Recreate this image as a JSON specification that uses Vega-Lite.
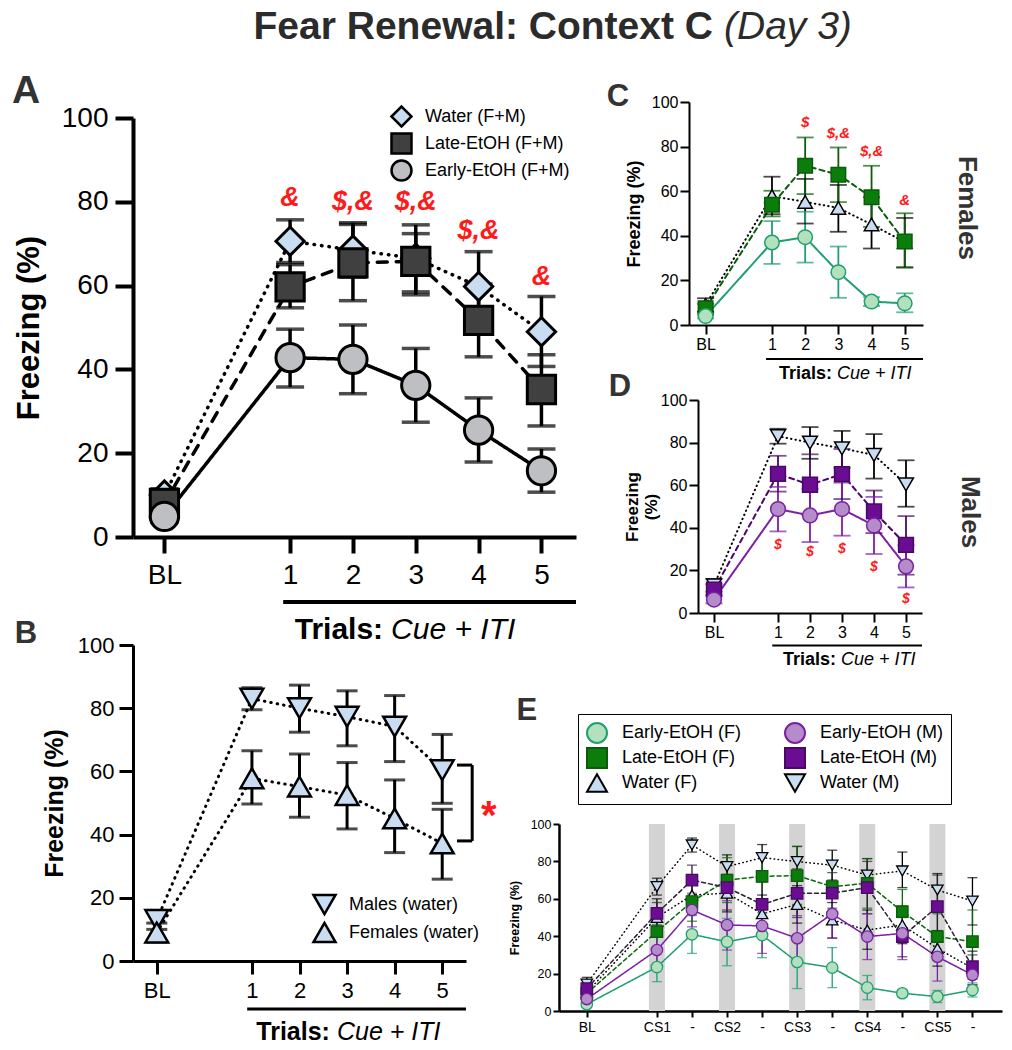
{
"$schema":"https://vega.github.io/schema/vega-lite/v6.json",
"width":1012,"height":1050,"autosize":{"type":"none"},"padding":0,
"config":{"view":{"stroke":null},"font":"Liberation Sans",
"axis":{"grid":false,"labelColor":"#000000","titleColor":"#000000","domainColor":"#000000","tickColor":"#000000","labelFlush":false,"labelOverlap":false,"labelFont":"Liberation Sans","titleFont":"Liberation Sans"},
"legend":{"labelFont":"Liberation Sans","labelColor":"#000000","labelLimit":400},
"text":{"font":"Liberation Sans"}},
"datasets":{
"A":[
{"g":"Water (F+M)","t":0,"m":10,"lo":8.5,"hi":11.5},
{"g":"Water (F+M)","t":2,"m":70.6,"lo":65.5,"hi":75.7},
{"g":"Water (F+M)","t":3,"m":68.5,"lo":62,"hi":75},
{"g":"Water (F+M)","t":4,"m":66.5,"lo":58.5,"hi":74.5},
{"g":"Water (F+M)","t":5,"m":59.8,"lo":51.5,"hi":68.1},
{"g":"Water (F+M)","t":6,"m":49,"lo":40.7,"hi":57.4},
{"g":"Late-EtOH (F+M)","t":0,"m":8,"lo":6.5,"hi":9.5},
{"g":"Late-EtOH (F+M)","t":2,"m":59.7,"lo":54.7,"hi":65},
{"g":"Late-EtOH (F+M)","t":3,"m":65.4,"lo":56.4,"hi":74.6},
{"g":"Late-EtOH (F+M)","t":4,"m":65.8,"lo":57.8,"hi":72.4},
{"g":"Late-EtOH (F+M)","t":5,"m":51.7,"lo":43,"hi":60.4},
{"g":"Late-EtOH (F+M)","t":6,"m":35.2,"lo":26.5,"hi":43.5},
{"g":"Early-EtOH (F+M)","t":0,"m":4.9,"lo":3.5,"hi":6.3},
{"g":"Early-EtOH (F+M)","t":2,"m":42.8,"lo":35.8,"hi":49.6},
{"g":"Early-EtOH (F+M)","t":3,"m":42.4,"lo":34.2,"hi":50.6},
{"g":"Early-EtOH (F+M)","t":4,"m":36.2,"lo":27.4,"hi":45},
{"g":"Early-EtOH (F+M)","t":5,"m":25.5,"lo":17.9,"hi":33.2},
{"g":"Early-EtOH (F+M)","t":6,"m":15.8,"lo":10.7,"hi":21}],
"annA":[{"t":2,"v":81,"s":"&"},{"t":3,"v":80,"s":"$,&"},{"t":4,"v":80,"s":"$,&"},{"t":5,"v":73,"s":"$,&"},{"t":6,"v":62,"s":"&"}],
"B":[
{"g":"Males (water)","t":0,"m":13,"lo":10,"hi":16},
{"g":"Males (water)","t":2,"m":83,"lo":79.5,"hi":86.5},
{"g":"Males (water)","t":3,"m":80,"lo":72.4,"hi":87.3},
{"g":"Males (water)","t":4,"m":77.3,"lo":68.1,"hi":85.5},
{"g":"Males (water)","t":5,"m":74.2,"lo":63.1,"hi":84},
{"g":"Males (water)","t":6,"m":60.4,"lo":49.9,"hi":71.7},
{"g":"Females (water)","t":0,"m":9,"lo":6,"hi":12},
{"g":"Females (water)","t":2,"m":57.8,"lo":49.7,"hi":66.5},
{"g":"Females (water)","t":3,"m":55.2,"lo":45.5,"hi":65.5},
{"g":"Females (water)","t":4,"m":52.5,"lo":41.8,"hi":62.8},
{"g":"Females (water)","t":5,"m":45.1,"lo":34.3,"hi":57.3},
{"g":"Females (water)","t":6,"m":37.2,"lo":25.9,"hi":48}],
"C":[
{"g":"Water (F)","t":0,"m":9,"lo":6,"hi":12},
{"g":"Water (F)","t":2,"m":57.8,"lo":49.7,"hi":66.5},
{"g":"Water (F)","t":3,"m":55.2,"lo":45.5,"hi":65.5},
{"g":"Water (F)","t":4,"m":52.5,"lo":41.8,"hi":62.8},
{"g":"Water (F)","t":5,"m":45.1,"lo":34.3,"hi":57.3},
{"g":"Water (F)","t":6,"m":37.2,"lo":25.9,"hi":48},
{"g":"Late-EtOH (F)","t":0,"m":7.5,"lo":5.5,"hi":9.5},
{"g":"Late-EtOH (F)","t":2,"m":53.9,"lo":48.7,"hi":60.2},
{"g":"Late-EtOH (F)","t":3,"m":71.4,"lo":58.7,"hi":84.1},
{"g":"Late-EtOH (F)","t":4,"m":67.4,"lo":55.1,"hi":79.6},
{"g":"Late-EtOH (F)","t":5,"m":57.3,"lo":44,"hi":71.4},
{"g":"Late-EtOH (F)","t":6,"m":37.4,"lo":25.7,"hi":50.1},
{"g":"Early-EtOH (F)","t":0,"m":4,"lo":3,"hi":5},
{"g":"Early-EtOH (F)","t":2,"m":37,"lo":27.4,"hi":46.6},
{"g":"Early-EtOH (F)","t":3,"m":39.4,"lo":28,"hi":50.8},
{"g":"Early-EtOH (F)","t":4,"m":23.7,"lo":12.2,"hi":35.2},
{"g":"Early-EtOH (F)","t":5,"m":10.5,"lo":8.5,"hi":12.5},
{"g":"Early-EtOH (F)","t":6,"m":9.7,"lo":5.7,"hi":14.2}],
"annC":[{"t":3,"v":91,"s":"$"},{"t":4,"v":86,"s":"$,&"},{"t":5,"v":78,"s":"$,&"},{"t":6,"v":56,"s":"&"}],
"D":[
{"g":"Water (M)","t":0,"m":13,"lo":10,"hi":16},
{"g":"Water (M)","t":2,"m":83,"lo":79.5,"hi":86.5},
{"g":"Water (M)","t":3,"m":80,"lo":72.4,"hi":87.3},
{"g":"Water (M)","t":4,"m":77.3,"lo":68.1,"hi":85.5},
{"g":"Water (M)","t":5,"m":74.2,"lo":63.1,"hi":84},
{"g":"Water (M)","t":6,"m":60.4,"lo":49.9,"hi":71.7},
{"g":"Late-EtOH (M)","t":0,"m":11,"lo":8.5,"hi":13.5},
{"g":"Late-EtOH (M)","t":2,"m":65.3,"lo":57,"hi":73.8},
{"g":"Late-EtOH (M)","t":3,"m":60.2,"lo":46,"hi":74.5},
{"g":"Late-EtOH (M)","t":4,"m":65.2,"lo":53.5,"hi":77},
{"g":"Late-EtOH (M)","t":5,"m":47.7,"lo":37.5,"hi":57.5},
{"g":"Late-EtOH (M)","t":6,"m":32,"lo":18,"hi":45.5},
{"g":"Early-EtOH (M)","t":0,"m":6.3,"lo":4.5,"hi":8},
{"g":"Early-EtOH (M)","t":2,"m":48.8,"lo":38.3,"hi":59.2},
{"g":"Early-EtOH (M)","t":3,"m":45.8,"lo":33.3,"hi":58.3},
{"g":"Early-EtOH (M)","t":4,"m":48.8,"lo":36.3,"hi":61.2},
{"g":"Early-EtOH (M)","t":5,"m":41.1,"lo":27.7,"hi":54.5},
{"g":"Early-EtOH (M)","t":6,"m":21.9,"lo":12,"hi":31.8}],
"annD":[{"t":2,"v":32,"s":"$"},{"t":3,"v":28.5,"s":"$"},{"t":4,"v":30,"s":"$"},{"t":5,"v":21.5,"s":"$"},{"t":6,"v":6.5,"s":"$"}],
"E":[
{"g":"Water (M)","t":0,"m":14.4,"lo":11,"hi":18},
{"g":"Water (M)","t":2,"m":66.5,"lo":62,"hi":71},
{"g":"Water (M)","t":3,"m":88.8,"lo":85,"hi":92.5},
{"g":"Water (M)","t":4,"m":77.2,"lo":71,"hi":83.5},
{"g":"Water (M)","t":5,"m":82,"lo":75,"hi":89},
{"g":"Water (M)","t":6,"m":79.9,"lo":72,"hi":88},
{"g":"Water (M)","t":7,"m":78,"lo":70,"hi":86},
{"g":"Water (M)","t":8,"m":72.7,"lo":64,"hi":81.5},
{"g":"Water (M)","t":9,"m":74.9,"lo":66,"hi":85},
{"g":"Water (M)","t":10,"m":64.7,"lo":56,"hi":73.5},
{"g":"Water (M)","t":11,"m":58.8,"lo":46,"hi":71.3},
{"g":"Water (F)","t":0,"m":10,"lo":7,"hi":13},
{"g":"Water (F)","t":2,"m":50,"lo":40,"hi":60},
{"g":"Water (F)","t":3,"m":62,"lo":52,"hi":72},
{"g":"Water (F)","t":4,"m":63,"lo":53,"hi":73},
{"g":"Water (F)","t":5,"m":52,"lo":42,"hi":62},
{"g":"Water (F)","t":6,"m":57,"lo":47,"hi":67},
{"g":"Water (F)","t":7,"m":48.7,"lo":39,"hi":58},
{"g":"Water (F)","t":8,"m":43.3,"lo":33,"hi":54},
{"g":"Water (F)","t":9,"m":46,"lo":36,"hi":56},
{"g":"Water (F)","t":10,"m":33.5,"lo":24,"hi":43},
{"g":"Water (F)","t":11,"m":22.8,"lo":14,"hi":32},
{"g":"Late-EtOH (F)","t":0,"m":9.4,"lo":7,"hi":12},
{"g":"Late-EtOH (F)","t":2,"m":42.4,"lo":33,"hi":52},
{"g":"Late-EtOH (F)","t":3,"m":58.5,"lo":48,"hi":69},
{"g":"Late-EtOH (F)","t":4,"m":70,"lo":58,"hi":82},
{"g":"Late-EtOH (F)","t":5,"m":72,"lo":60,"hi":84},
{"g":"Late-EtOH (F)","t":6,"m":72.4,"lo":57,"hi":88},
{"g":"Late-EtOH (F)","t":7,"m":66.5,"lo":55,"hi":78},
{"g":"Late-EtOH (F)","t":8,"m":68.3,"lo":55,"hi":81.5},
{"g":"Late-EtOH (F)","t":9,"m":53.1,"lo":41,"hi":65},
{"g":"Late-EtOH (F)","t":10,"m":39.8,"lo":27,"hi":52},
{"g":"Late-EtOH (F)","t":11,"m":37.1,"lo":20,"hi":54},
{"g":"Late-EtOH (M)","t":0,"m":12,"lo":9.5,"hi":14.5},
{"g":"Late-EtOH (M)","t":2,"m":52.2,"lo":46,"hi":58},
{"g":"Late-EtOH (M)","t":3,"m":70,"lo":62,"hi":78},
{"g":"Late-EtOH (M)","t":4,"m":66,"lo":54,"hi":79},
{"g":"Late-EtOH (M)","t":5,"m":57,"lo":45,"hi":69},
{"g":"Late-EtOH (M)","t":6,"m":62.9,"lo":50,"hi":76},
{"g":"Late-EtOH (M)","t":7,"m":63,"lo":52,"hi":74},
{"g":"Late-EtOH (M)","t":8,"m":66,"lo":52,"hi":80},
{"g":"Late-EtOH (M)","t":9,"m":39.8,"lo":29,"hi":50},
{"g":"Late-EtOH (M)","t":10,"m":55.8,"lo":39,"hi":72.7},
{"g":"Late-EtOH (M)","t":11,"m":23.7,"lo":17,"hi":30},
{"g":"Early-EtOH (F)","t":0,"m":3.6,"lo":2.5,"hi":4.7},
{"g":"Early-EtOH (F)","t":2,"m":23.5,"lo":15.7,"hi":31.5},
{"g":"Early-EtOH (F)","t":3,"m":41,"lo":30.8,"hi":51},
{"g":"Early-EtOH (F)","t":4,"m":37,"lo":24.2,"hi":49.5},
{"g":"Early-EtOH (F)","t":5,"m":40.6,"lo":28.5,"hi":52.5},
{"g":"Early-EtOH (F)","t":6,"m":26.2,"lo":12,"hi":40.5},
{"g":"Early-EtOH (F)","t":7,"m":23.2,"lo":12.5,"hi":33.9},
{"g":"Early-EtOH (F)","t":8,"m":12.5,"lo":6,"hi":19},
{"g":"Early-EtOH (F)","t":9,"m":9.5,"lo":7.5,"hi":11.5},
{"g":"Early-EtOH (F)","t":10,"m":7.7,"lo":4.5,"hi":11},
{"g":"Early-EtOH (F)","t":11,"m":11.2,"lo":7.5,"hi":15},
{"g":"Early-EtOH (M)","t":0,"m":6.4,"lo":4.5,"hi":8.3},
{"g":"Early-EtOH (M)","t":2,"m":32.6,"lo":24.5,"hi":40.5},
{"g":"Early-EtOH (M)","t":3,"m":54,"lo":45,"hi":63},
{"g":"Early-EtOH (M)","t":4,"m":46,"lo":32.6,"hi":59},
{"g":"Early-EtOH (M)","t":5,"m":45.5,"lo":30.8,"hi":59},
{"g":"Early-EtOH (M)","t":6,"m":38.9,"lo":27,"hi":51},
{"g":"Early-EtOH (M)","t":7,"m":51.9,"lo":39,"hi":64},
{"g":"Early-EtOH (M)","t":8,"m":39.8,"lo":27.5,"hi":52},
{"g":"Early-EtOH (M)","t":9,"m":41.5,"lo":27.5,"hi":55},
{"g":"Early-EtOH (M)","t":10,"m":29,"lo":16,"hi":42},
{"g":"Early-EtOH (M)","t":11,"m":19.3,"lo":14,"hi":24.5}],
"csE":[{"t":2},{"t":4},{"t":6},{"t":8},{"t":10}]
},
"resolve":{"scale":{"x":"independent","y":"independent","fill":"independent","stroke":"independent","shape":"independent","strokeDash":"independent","color":"independent"},"axis":{"x":"independent","y":"independent"},"legend":{"fill":"independent","stroke":"independent","shape":"independent","strokeDash":"independent","color":"independent"}},
"layer":[
{"data":{"name":"A"},"layer":[
 {"mark":{"type":"line","strokeWidth":3.5,"strokeCap":"round"},"encoding":{
  "x":{"field":"t","type":"quantitative","scale":{"domain":[-0.5,6.55],"range":[133,576],"nice":false,"zero":false},"axis":{"orient":"bottom","offset":-513,"values":[0,2,3,4,5,6],"labelExpr":"datum.value == 0 ? 'BL' : '' + (datum.value - 1)","title":null,"domainWidth":4,"tickWidth":4,"tickSize":16,"labelFontSize":28,"labelPadding":8}},
  "y":{"field":"m","type":"quantitative","scale":{"domain":[0,100],"range":[537,118],"nice":false,"zero":false},"axis":{"orient":"left","offset":-133,"values":[0,20,40,60,80,100],"title":"Freezing (%)","titleFontSize":31,"titleFontWeight":"bold","titlePadding":16,"domainWidth":4,"tickWidth":4,"tickSize":18,"labelFontSize":28,"labelPadding":7}},
  "color":{"field":"g","type":"nominal","scale":{"domain":["Early-EtOH (F+M)","Late-EtOH (F+M)","Water (F+M)"],"range":["#000000","#000000","#000000"]},"legend":null},
  "strokeDash":{"field":"g","type":"nominal","scale":{"domain":["Early-EtOH (F+M)","Late-EtOH (F+M)","Water (F+M)"],"range":[[1,0],[10,9],[0.5,7]]},"legend":null}}},
 {"mark":{"type":"rule","strokeWidth":3.5},"encoding":{"x":{"field":"t","type":"quantitative"},"y":{"field":"lo","type":"quantitative"},"y2":{"field":"hi"},"color":{"field":"g","type":"nominal","legend":null}}},
 {"mark":{"type":"tick","orient":"horizontal","size":28,"thickness":3.5},"encoding":{"x":{"field":"t","type":"quantitative"},"y":{"field":"lo","type":"quantitative"},"color":{"field":"g","type":"nominal","legend":null}}},
 {"mark":{"type":"tick","orient":"horizontal","size":28,"thickness":3.5},"encoding":{"x":{"field":"t","type":"quantitative"},"y":{"field":"hi","type":"quantitative"},"color":{"field":"g","type":"nominal","legend":null}}},
 {"mark":{"type":"point","filled":true,"opacity":1,"size":800,"strokeWidth":3},"encoding":{"x":{"field":"t","type":"quantitative"},"y":{"field":"m","type":"quantitative"},
  "shape":{"field":"g","type":"nominal","scale":{"domain":["Water (F+M)","Late-EtOH (F+M)","Early-EtOH (F+M)"],"range":["diamond","square","circle"]},
   "legend":{"title":null,"orient":"none","legendX":390,"legendY":105,"padding":0,"symbolSize":400,"symbolStrokeWidth":2.5,"labelFontSize":18,"labelOffset":12,"rowPadding":-8}},
  "fill":{"field":"g","type":"nominal","scale":{"domain":["Water (F+M)","Late-EtOH (F+M)","Early-EtOH (F+M)"],"range":["#c9ddf2","#404040","#bebfc3"]},"legend":{"title":null}},
  "stroke":{"field":"g","type":"nominal","scale":{"domain":["Water (F+M)","Late-EtOH (F+M)","Early-EtOH (F+M)"],"range":["#000000","#000000","#000000"]},"legend":{"title":null}}}},
 {"data":{"name":"annA"},"mark":{"type":"text","color":"#ff1a1a","fontSize":27,"fontWeight":"bold","fontStyle":"italic","baseline":"middle"},"encoding":{"x":{"field":"t","type":"quantitative"},"y":{"field":"v","type":"quantitative"},"text":{"field":"s"}}},
 {"data":{"values":[{}]},"mark":{"type":"text","text":"A","fontSize":39,"fontWeight":"bold","color":"#333333","align":"center","baseline":"middle"},"encoding":{"x":{"datum":-2.2,"type":"quantitative"},"y":{"datum":106.4,"type":"quantitative"}}},
 {"data":{"values":[{}]},"mark":{"type":"text","text":"Fear Renewal: Context C","fontSize":39,"fontWeight":"bold","color":"#2b2b2b","align":"right","baseline":"middle"},"encoding":{"x":{"datum":8.73,"type":"quantitative"},"y":{"datum":121.7,"type":"quantitative"}}},
 {"data":{"values":[{}]},"mark":{"type":"text","text":"(Day 3)","fontSize":39,"fontStyle":"italic","color":"#2b2b2b","align":"left","baseline":"middle","dx":11},"encoding":{"x":{"datum":8.73,"type":"quantitative"},"y":{"datum":121.7,"type":"quantitative"}}},
 {"data":{"values":[{}]},"mark":{"type":"rule","strokeWidth":4,"color":"#000000"},"encoding":{"x":{"datum":1.89,"type":"quantitative"},"x2":{"datum":6.55},"y":{"datum":-15.5,"type":"quantitative"}}},
 {"data":{"values":[{}]},"mark":{"type":"text","text":"Trials:","fontSize":30,"fontWeight":"bold","color":"#000000","align":"right","baseline":"middle"},"encoding":{"x":{"datum":3.48,"type":"quantitative"},"y":{"datum":-22.2,"type":"quantitative"}}},
 {"data":{"values":[{}]},"mark":{"type":"text","text":"Cue + ITI","fontSize":30,"fontStyle":"italic","color":"#000000","align":"left","baseline":"middle","dx":8},"encoding":{"x":{"datum":3.48,"type":"quantitative"},"y":{"datum":-22.2,"type":"quantitative"}}}
]},
{"data":{"name":"B"},"layer":[
 {"mark":{"type":"line","strokeWidth":3,"strokeCap":"round"},"encoding":{
  "x":{"field":"t","type":"quantitative","scale":{"domain":[-0.5,6.5],"range":[133,466],"nice":false,"zero":false},"axis":{"orient":"bottom","offset":-89,"values":[0,2,3,4,5,6],"labelExpr":"datum.value == 0 ? 'BL' : '' + (datum.value - 1)","title":null,"domainWidth":3,"tickWidth":3,"tickSize":13,"labelFontSize":22,"labelPadding":6}},
  "y":{"field":"m","type":"quantitative","scale":{"domain":[0,100],"range":[961,645],"nice":false,"zero":false},"axis":{"orient":"left","offset":-133,"values":[0,20,40,60,80,100],"title":"Freezing (%)","titleFontSize":25,"titleFontWeight":"bold","titlePadding":10,"domainWidth":3,"tickWidth":3,"tickSize":14,"labelFontSize":22,"labelPadding":5}},
  "color":{"field":"g","type":"nominal","scale":{"domain":["Females (water)","Males (water)"],"range":["#000000","#000000"]},"legend":null},
  "strokeDash":{"field":"g","type":"nominal","scale":{"domain":["Females (water)","Males (water)"],"range":[[0.5,6],[0.5,6]]},"legend":null}}},
 {"mark":{"type":"rule","strokeWidth":3},"encoding":{"x":{"field":"t","type":"quantitative"},"y":{"field":"lo","type":"quantitative"},"y2":{"field":"hi"},"color":{"field":"g","type":"nominal","legend":null}}},
 {"mark":{"type":"tick","orient":"horizontal","size":21,"thickness":3},"encoding":{"x":{"field":"t","type":"quantitative"},"y":{"field":"lo","type":"quantitative"},"color":{"field":"g","type":"nominal","legend":null}}},
 {"mark":{"type":"tick","orient":"horizontal","size":21,"thickness":3},"encoding":{"x":{"field":"t","type":"quantitative"},"y":{"field":"hi","type":"quantitative"},"color":{"field":"g","type":"nominal","legend":null}}},
 {"mark":{"type":"point","filled":true,"opacity":1,"size":520,"strokeWidth":2.5},"encoding":{"x":{"field":"t","type":"quantitative"},"y":{"field":"m","type":"quantitative"},
  "shape":{"field":"g","type":"nominal","scale":{"domain":["Males (water)","Females (water)"],"range":["triangle-down","triangle-up"]},
   "legend":{"title":null,"orient":"none","legendX":312,"legendY":892,"padding":0,"symbolSize":484,"symbolStrokeWidth":2.5,"labelFontSize":18,"labelOffset":12,"rowPadding":-7}},
  "fill":{"field":"g","type":"nominal","scale":{"domain":["Males (water)","Females (water)"],"range":["#c9ddf2","#c9ddf2"]},"legend":{"title":null}},
  "stroke":{"field":"g","type":"nominal","scale":{"domain":["Males (water)","Females (water)"],"range":["#000000","#000000"]},"legend":{"title":null}}}},
 {"data":{"values":[{}]},"mark":{"type":"rule","strokeWidth":3,"color":"#000000"},"encoding":{"x":{"datum":6.31,"type":"quantitative"},"x2":{"datum":6.63},"y":{"datum":62,"type":"quantitative"}}},
 {"data":{"values":[{}]},"mark":{"type":"rule","strokeWidth":3,"color":"#000000"},"encoding":{"x":{"datum":6.31,"type":"quantitative"},"x2":{"datum":6.63},"y":{"datum":38,"type":"quantitative"}}},
 {"data":{"values":[{}]},"mark":{"type":"rule","strokeWidth":3,"color":"#000000"},"encoding":{"x":{"datum":6.63,"type":"quantitative"},"y":{"datum":38,"type":"quantitative"},"y2":{"datum":62}}},
 {"data":{"values":[{}]},"mark":{"type":"text","text":"*","fontSize":40,"fontWeight":"bold","color":"#ff1a1a","align":"center","baseline":"middle"},"encoding":{"x":{"datum":6.98,"type":"quantitative"},"y":{"datum":45.5,"type":"quantitative"}}},
 {"data":{"values":[{}]},"mark":{"type":"text","text":"B","fontSize":31,"fontWeight":"bold","color":"#333333","align":"center","baseline":"middle"},"encoding":{"x":{"datum":-2.75,"type":"quantitative"},"y":{"datum":103.5,"type":"quantitative"}}},
 {"data":{"values":[{}]},"mark":{"type":"rule","strokeWidth":3,"color":"#000000"},"encoding":{"x":{"datum":1.9,"type":"quantitative"},"x2":{"datum":6.5},"y":{"datum":-15.2,"type":"quantitative"}}},
 {"data":{"values":[{}]},"mark":{"type":"text","text":"Trials:","fontSize":25,"fontWeight":"bold","color":"#000000","align":"right","baseline":"middle"},"encoding":{"x":{"datum":3.64,"type":"quantitative"},"y":{"datum":-22.5,"type":"quantitative"}}},
 {"data":{"values":[{}]},"mark":{"type":"text","text":"Cue + ITI","fontSize":25,"fontStyle":"italic","color":"#000000","align":"left","baseline":"middle","dx":7},"encoding":{"x":{"datum":3.64,"type":"quantitative"},"y":{"datum":-22.5,"type":"quantitative"}}}
]},
{"data":{"name":"C"},"layer":[
 {"mark":{"type":"line","strokeWidth":2,"strokeCap":"round"},"encoding":{
  "x":{"field":"t","type":"quantitative","scale":{"domain":[-0.5,6.55],"range":[689,923],"nice":false,"zero":false},"axis":{"orient":"bottom","offset":-725,"values":[0,2,3,4,5,6],"labelExpr":"datum.value == 0 ? 'BL' : '' + (datum.value - 1)","title":null,"domainWidth":2,"tickWidth":2,"tickSize":9,"labelFontSize":16,"labelPadding":2}},
  "y":{"field":"m","type":"quantitative","scale":{"domain":[0,100],"range":[325,102],"nice":false,"zero":false},"axis":{"orient":"left","offset":-689,"values":[0,20,40,60,80,100],"title":"Freezing (%)","titleFontSize":18,"titleFontWeight":"bold","titlePadding":8,"domainWidth":2,"tickWidth":2,"tickSize":9,"labelFontSize":16,"labelPadding":2}},
  "stroke":{"field":"g","type":"nominal","scale":{"domain":["Water (F)","Late-EtOH (F)","Early-EtOH (F)"],"range":["#000000","#0a5c0a","#1fa06e"]},"legend":null},
  "strokeDash":{"field":"g","type":"nominal","scale":{"domain":["Water (F)","Late-EtOH (F)","Early-EtOH (F)"],"range":[[0.5,4],[5,4],[1,0]]},"legend":null}}},
 {"mark":{"type":"rule","strokeWidth":1.8},"encoding":{"x":{"field":"t","type":"quantitative"},"y":{"field":"lo","type":"quantitative"},"y2":{"field":"hi"},"stroke":{"field":"g","type":"nominal","legend":null}}},
 {"mark":{"type":"tick","orient":"horizontal","size":17,"thickness":1.8},"encoding":{"x":{"field":"t","type":"quantitative"},"y":{"field":"lo","type":"quantitative"},"color":{"field":"g","type":"nominal","scale":{"domain":["Water (F)","Late-EtOH (F)","Early-EtOH (F)"],"range":["#000000","#0a5c0a","#1fa06e"]},"legend":null}}},
 {"mark":{"type":"tick","orient":"horizontal","size":17,"thickness":1.8},"encoding":{"x":{"field":"t","type":"quantitative"},"y":{"field":"hi","type":"quantitative"},"color":{"field":"g","type":"nominal","legend":null}}},
 {"mark":{"type":"point","filled":true,"opacity":1,"size":210,"strokeWidth":1.5},"encoding":{"x":{"field":"t","type":"quantitative"},"y":{"field":"m","type":"quantitative"},
  "shape":{"field":"g","type":"nominal","scale":{"domain":["Water (F)","Late-EtOH (F)","Early-EtOH (F)"],"range":["triangle-up","square","circle"]},"legend":null},
  "fill":{"field":"g","type":"nominal","scale":{"domain":["Water (F)","Late-EtOH (F)","Early-EtOH (F)"],"range":["#c9ddf2","#0a7d0a","#b3e0bd"]},"legend":null},
  "stroke":{"field":"g","type":"nominal","legend":null}}},
 {"data":{"name":"annC"},"mark":{"type":"text","color":"#ff1a1a","fontSize":15,"fontWeight":"bold","fontStyle":"italic","baseline":"middle"},"encoding":{"x":{"field":"t","type":"quantitative"},"y":{"field":"v","type":"quantitative"},"text":{"field":"s"}}},
 {"data":{"values":[{}]},"mark":{"type":"text","text":"C","fontSize":31,"fontWeight":"bold","color":"#333333","align":"center","baseline":"middle"},"encoding":{"x":{"datum":-2.64,"type":"quantitative"},"y":{"datum":102.2,"type":"quantitative"}}},
 {"data":{"values":[{}]},"mark":{"type":"text","text":"Females","fontSize":26,"fontWeight":"bold","color":"#333333","align":"center","baseline":"middle","angle":90},"encoding":{"x":{"datum":7.88,"type":"quantitative"},"y":{"datum":52.5,"type":"quantitative"}}},
 {"data":{"values":[{}]},"mark":{"type":"rule","strokeWidth":2,"color":"#000000"},"encoding":{"x":{"datum":1.82,"type":"quantitative"},"x2":{"datum":6.55},"y":{"datum":-15.2,"type":"quantitative"}}},
 {"data":{"values":[{}]},"mark":{"type":"text","text":"Trials:","fontSize":18,"fontWeight":"bold","color":"#000000","align":"right","baseline":"middle"},"encoding":{"x":{"datum":3.81,"type":"quantitative"},"y":{"datum":-22,"type":"quantitative"}}},
 {"data":{"values":[{}]},"mark":{"type":"text","text":"Cue + ITI","fontSize":18,"fontStyle":"italic","color":"#000000","align":"left","baseline":"middle","dx":5},"encoding":{"x":{"datum":3.81,"type":"quantitative"},"y":{"datum":-22,"type":"quantitative"}}}
]},
{"data":{"name":"D"},"layer":[
 {"mark":{"type":"line","strokeWidth":2,"strokeCap":"round"},"encoding":{
  "x":{"field":"t","type":"quantitative","scale":{"domain":[-0.5,6.5],"range":[698,922],"nice":false,"zero":false},"axis":{"orient":"bottom","offset":-437,"values":[0,2,3,4,5,6],"labelExpr":"datum.value == 0 ? 'BL' : '' + (datum.value - 1)","title":null,"domainWidth":2,"tickWidth":2,"tickSize":9,"labelFontSize":16,"labelPadding":2}},
  "y":{"field":"m","type":"quantitative","scale":{"domain":[0,100],"range":[613,400],"nice":false,"zero":false},"axis":{"orient":"left","offset":-698,"values":[0,20,40,60,80,100],"title":["Freezing","(%)"],"titleFontSize":17,"titleFontWeight":"bold","titlePadding":0,"domainWidth":2,"tickWidth":2,"tickSize":9,"labelFontSize":16,"labelPadding":2}},
  "stroke":{"field":"g","type":"nominal","scale":{"domain":["Water (M)","Late-EtOH (M)","Early-EtOH (M)"],"range":["#000000","#4a0866","#7d1fa5"]},"legend":null},
  "strokeDash":{"field":"g","type":"nominal","scale":{"domain":["Water (M)","Late-EtOH (M)","Early-EtOH (M)"],"range":[[0.5,4],[5,4],[1,0]]},"legend":null}}},
 {"mark":{"type":"rule","strokeWidth":1.8},"encoding":{"x":{"field":"t","type":"quantitative"},"y":{"field":"lo","type":"quantitative"},"y2":{"field":"hi"},"stroke":{"field":"g","type":"nominal","legend":null}}},
 {"mark":{"type":"tick","orient":"horizontal","size":17,"thickness":1.8},"encoding":{"x":{"field":"t","type":"quantitative"},"y":{"field":"lo","type":"quantitative"},"color":{"field":"g","type":"nominal","scale":{"domain":["Water (M)","Late-EtOH (M)","Early-EtOH (M)"],"range":["#000000","#4a0866","#7d1fa5"]},"legend":null}}},
 {"mark":{"type":"tick","orient":"horizontal","size":17,"thickness":1.8},"encoding":{"x":{"field":"t","type":"quantitative"},"y":{"field":"hi","type":"quantitative"},"color":{"field":"g","type":"nominal","legend":null}}},
 {"mark":{"type":"point","filled":true,"opacity":1,"size":220,"strokeWidth":1.5},"encoding":{"x":{"field":"t","type":"quantitative"},"y":{"field":"m","type":"quantitative"},
  "shape":{"field":"g","type":"nominal","scale":{"domain":["Water (M)","Late-EtOH (M)","Early-EtOH (M)"],"range":["triangle-down","square","circle"]},"legend":null},
  "fill":{"field":"g","type":"nominal","scale":{"domain":["Water (M)","Late-EtOH (M)","Early-EtOH (M)"],"range":["#c9ddf2","#6b0d92","#b48cc9"]},"legend":null},
  "stroke":{"field":"g","type":"nominal","legend":null}}},
 {"data":{"name":"annD"},"mark":{"type":"text","color":"#ff1a1a","fontSize":14,"fontWeight":"bold","fontStyle":"italic","baseline":"middle"},"encoding":{"x":{"field":"t","type":"quantitative"},"y":{"field":"v","type":"quantitative"},"text":{"field":"s"}}},
 {"data":{"values":[{}]},"mark":{"type":"text","text":"D","fontSize":31,"fontWeight":"bold","color":"#333333","align":"center","baseline":"middle"},"encoding":{"x":{"datum":-2.94,"type":"quantitative"},"y":{"datum":106,"type":"quantitative"}}},
 {"data":{"values":[{}]},"mark":{"type":"text","text":"Males","fontSize":26,"fontWeight":"bold","color":"#333333","align":"center","baseline":"middle","angle":90},"encoding":{"x":{"datum":8.0,"type":"quantitative"},"y":{"datum":47.4,"type":"quantitative"}}},
 {"data":{"values":[{}]},"mark":{"type":"rule","strokeWidth":2,"color":"#000000"},"encoding":{"x":{"datum":1.82,"type":"quantitative"},"x2":{"datum":6.5},"y":{"datum":-15.2,"type":"quantitative"}}},
 {"data":{"values":[{}]},"mark":{"type":"text","text":"Trials:","fontSize":18,"fontWeight":"bold","color":"#000000","align":"right","baseline":"middle"},"encoding":{"x":{"datum":3.81,"type":"quantitative"},"y":{"datum":-22,"type":"quantitative"}}},
 {"data":{"values":[{}]},"mark":{"type":"text","text":"Cue + ITI","fontSize":18,"fontStyle":"italic","color":"#000000","align":"left","baseline":"middle","dx":5},"encoding":{"x":{"datum":3.81,"type":"quantitative"},"y":{"datum":-22,"type":"quantitative"}}}
]},
{"data":{"name":"E"},"layer":[
 {"data":{"name":"csE"},"mark":{"type":"bar","width":16,"color":"#d3d3d3","orient":"vertical"},"encoding":{"x":{"field":"t","type":"quantitative"},"y":{"datum":100,"type":"quantitative"},"y2":{"datum":0}}},
 {"mark":{"type":"line","strokeWidth":1.5,"strokeCap":"round"},"encoding":{
  "x":{"field":"t","type":"quantitative","scale":{"domain":[-0.65,11.7],"range":[559,1002],"nice":false,"zero":false},"axis":{"orient":"bottom","offset":-39,"values":[0,2,3,4,5,6,7,8,9,10,11],"labelExpr":"['BL','','CS1','-','CS2','-','CS3','-','CS4','-','CS5','-'][datum.value]","title":null,"domainWidth":2.5,"tickWidth":2,"tickSize":6,"labelFontSize":14,"labelPadding":3}},
  "y":{"field":"m","type":"quantitative","scale":{"domain":[0,100],"range":[1011,824],"nice":false,"zero":false},"axis":{"orient":"left","offset":-559,"values":[0,20,40,60,80,100],"title":"Freezing (%)","titleFontSize":12.5,"titleFontWeight":"bold","titlePadding":9,"domainWidth":2.5,"tickWidth":2,"tickSize":6,"labelFontSize":12.5,"labelPadding":2}},
  "color":{"field":"g","type":"nominal","scale":{"domain":["Water (M)","Water (F)","Late-EtOH (M)","Late-EtOH (F)","Early-EtOH (M)","Early-EtOH (F)"],"range":["#000000","#000000","#2d1f35","#0a6a0a","#7d1fa5","#1fa06e"]},"legend":null},
  "strokeDash":{"field":"g","type":"nominal","scale":{"domain":["Water (M)","Water (F)","Late-EtOH (M)","Late-EtOH (F)","Early-EtOH (M)","Early-EtOH (F)"],"range":[[0.5,3.5],[0.5,3.5],[4,3],[4,3],[1,0],[1,0]]},"legend":null}}},
 {"mark":{"type":"rule","strokeWidth":1.3},"encoding":{"x":{"field":"t","type":"quantitative"},"y":{"field":"lo","type":"quantitative"},"y2":{"field":"hi"},"color":{"field":"g","type":"nominal","legend":null}}},
 {"mark":{"type":"tick","orient":"horizontal","size":10,"thickness":1.3},"encoding":{"x":{"field":"t","type":"quantitative"},"y":{"field":"lo","type":"quantitative"},"color":{"field":"g","type":"nominal","legend":null}}},
 {"mark":{"type":"tick","orient":"horizontal","size":10,"thickness":1.3},"encoding":{"x":{"field":"t","type":"quantitative"},"y":{"field":"hi","type":"quantitative"},"color":{"field":"g","type":"nominal","legend":null}}},
 {"mark":{"type":"point","filled":true,"opacity":1,"size":130,"strokeWidth":1.3},"encoding":{"x":{"field":"t","type":"quantitative"},"y":{"field":"m","type":"quantitative"},
  "shape":{"field":"g","type":"nominal","scale":{"domain":["Early-EtOH (F)","Late-EtOH (F)","Water (F)","Early-EtOH (M)","Late-EtOH (M)","Water (M)"],"range":["circle","square","triangle-up","circle","square","triangle-down"]},
   "legend":{"title":null,"orient":"none","legendX":578,"legendY":714,"columns":2,"columnPadding":40,"rowPadding":-4,"padding":8,"strokeColor":"#000000","symbolSize":400,"symbolStrokeWidth":2,"labelFontSize":18,"labelOffset":14}},
  "fill":{"field":"g","type":"nominal","scale":{"domain":["Early-EtOH (F)","Late-EtOH (F)","Water (F)","Early-EtOH (M)","Late-EtOH (M)","Water (M)"],"range":["#b3e0bd","#0a7d0a","#c9ddf2","#b48cc9","#6b0d92","#c9ddf2"]},"legend":{"title":null}},
  "stroke":{"field":"g","type":"nominal","scale":{"domain":["Early-EtOH (F)","Late-EtOH (F)","Water (F)","Early-EtOH (M)","Late-EtOH (M)","Water (M)"],"range":["#1fa06e","#0a5c0a","#000000","#7d1fa5","#4a0866","#000000"]},"legend":{"title":null}}}},
 {"data":{"values":[{}]},"mark":{"type":"text","text":"E","fontSize":31,"fontWeight":"bold","color":"#333333","align":"center","baseline":"middle"},"encoding":{"x":{"datum":-1.71,"type":"quantitative"},"y":{"datum":160.4,"type":"quantitative"}}}
]}
]
}
